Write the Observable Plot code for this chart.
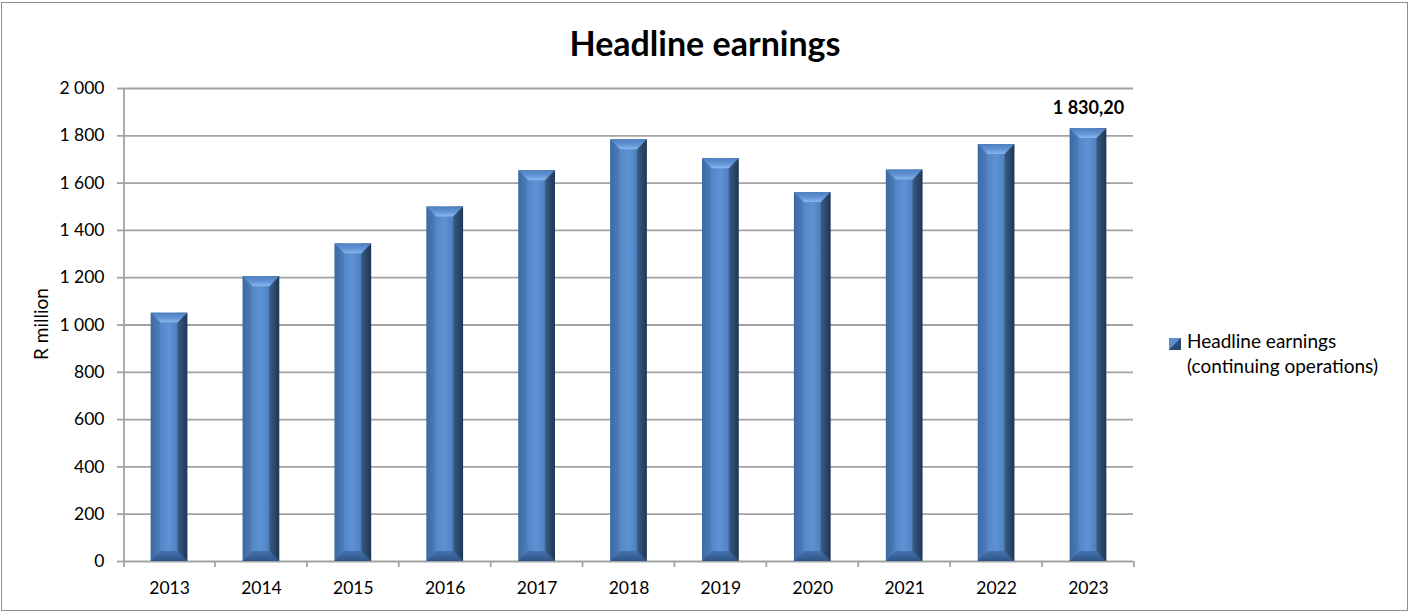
<!DOCTYPE html>
<html>
<head>
<meta charset="utf-8">
<script src="https://cdn.jsdelivr.net/npm/d3@7"></script>
<script src="https://cdn.jsdelivr.net/npm/@observablehq/plot@0.6"></script>
<style>
  html, body { margin: 0; padding: 0; background: #fff; }
  #chart { position: relative; width: 1410px; height: 614px; overflow: hidden;
           font-family: Lato, "Open Sans", sans-serif; color: #000; }
  #frame { position: absolute; left: 1px; top: 2px; width: 1405px; height: 607px;
           border: 1.5px solid #8e8e8e; pointer-events: none; }
  #title { position: absolute; left: 0; top: 25px; width: 1410px; text-align: center;
           font-size: 34px; font-weight: 700; line-height: 36px; }
  #ylabel { position: absolute; left: 40px; top: 324px; white-space: nowrap; font-size: 19px;
            transform: translate(-50%, -50%) rotate(-90deg); }
  #legend { position: absolute; left: 1169px; top: 328px; font-size: 19px; line-height: 25px; }
  #legend svg { position: absolute; left: 0; top: 10px; }
  #legend .txt { margin-left: 18px; white-space: nowrap; }
  #plot { position: absolute; left: 0; top: 0; }
</style>
</head>
<body>
<div id="chart">
  <div id="plot"></div>
  <div id="title">Headline earnings</div>
  <div id="ylabel">R million</div>
  <div id="legend">
    <svg width="12" height="12" viewBox="0 0 12 12">
      <rect width="12" height="12" fill="#3f6ca4"/>
      <polygon points="0,0 12,0 0,12" fill="#5b8dcd"/>
      <polygon points="12,0 12,12 0,12" fill="#2c4b74"/>
    </svg>
    <div class="txt">Headline earnings<br>(continuing operations)</div>
  </div>
  <div id="frame"></div>
</div>
<script>
// Headline earnings (continuing operations), R million
const years = ["2013", "2014", "2015", "2016", "2017", "2018", "2019", "2020", "2021", "2022", "2023"];
const earnings = [1050, 1204, 1343, 1499, 1652, 1783, 1703, 1560, 1655, 1763, 1830.2];
const yTicks = [0, 200, 400, 600, 800, 1000, 1200, 1400, 1600, 1800, 2000];
const labelledYears = ["2023"];

const data = years.map((year, i) => ({year, value: earnings[i]}));
const labelled = data.filter(d => labelledYears.includes(d.year));

const gridColor = "#a2a2a2";

// "2 000" style thousands, "1 830,20" style decimals
const spaced = d => d3.format(",")(d).replace(/,/g, " ");
const valueFmt = d => d3.format(",.2f")(d).replace(/[,.]/g, c => (c === "," ? " " : ","));

// Bevelled column: shaded body, light top facet, darker base facet
const bars = Plot.barY(data, {
  x: "year",
  y: "value",
  render(index, scales) {
    const {x, y} = scales;
    const bw = x.bandwidth();
    const d = bw * 0.27;
    const g = d3.create("svg:g");
    const defs = g.append("defs");

    const body = defs.append("linearGradient").attr("id", "bar-body")
      .attr("x1", 0).attr("x2", 1).attr("y1", 0).attr("y2", 0);
    [[0, "#3c69a1"], [0.22, "#4a7ab8"], [0.28, "#5588c9"], [0.5, "#5e92d4"],
     [0.7, "#5083c3"], [0.76, "#36587f"], [1, "#1f3555"]]
      .forEach(([o, c]) => body.append("stop").attr("offset", o).attr("stop-color", c));

    const top = defs.append("linearGradient").attr("id", "bar-top")
      .attr("x1", 0).attr("x2", 0).attr("y1", 0).attr("y2", 1);
    [[0, "#4d7ebe"], [0.55, "#6394d6"], [1, "#89b7ee"]]
      .forEach(([o, c]) => top.append("stop").attr("offset", o).attr("stop-color", c));

    const base = defs.append("linearGradient").attr("id", "bar-base")
      .attr("x1", 0).attr("x2", 0).attr("y1", 0).attr("y2", 1);
    [[0, "#4372ad"], [1, "#2f5587"]]
      .forEach(([o, c]) => base.append("stop").attr("offset", o).attr("stop-color", c));

    const y0 = y(0);
    for (const i of index) {
      const row = data[i];
      const x0 = x(row.year), x1 = x0 + bw, yt = y(row.value);
      g.append("rect").attr("x", x0).attr("y", yt).attr("width", bw).attr("height", y0 - yt)
        .attr("fill", "url(#bar-body)");
      g.append("polygon")
        .attr("points", [[x0, yt], [x1, yt], [x1 - d, yt + d], [x0 + d, yt + d]].join(" "))
        .attr("fill", "url(#bar-top)");
      g.append("polygon")
        .attr("points", [[x0, y0], [x1, y0], [x1 - d, y0 - d], [x0 + d, y0 - d]].join(" "))
        .attr("fill", "url(#bar-base)");
    }
    return g.node();
  }
});

// Value axis line and category separator ticks
const axisLines = Plot.ruleY([0], {
  render(index, scales, values, dims) {
    const {x, y} = scales;
    const bw = x.bandwidth();
    const step = x(years[1]) - x(years[0]);
    const gap = (step - bw) / 2;
    const yb = y(0);
    const g = d3.create("svg:g").attr("stroke", gridColor).attr("stroke-width", 1.8);
    g.append("line")
      .attr("x1", dims.marginLeft).attr("x2", dims.marginLeft)
      .attr("y1", y(yTicks[yTicks.length - 1])).attr("y2", yb + 6);
    for (const yr of years) {
      const bx = x(yr) + bw + gap;
      g.append("line").attr("x1", bx).attr("x2", bx).attr("y1", yb).attr("y2", yb + 6);
    }
    return g.node();
  }
});

const chart = Plot.plot({
  width: 1410,
  height: 614,
  marginLeft: 124,
  marginRight: 277,
  marginTop: 88,
  marginBottom: 53,
  style: {fontFamily: "Lato, 'Open Sans', sans-serif", fontSize: "17.5px", color: "#000", background: "transparent"},
  x: {domain: years, paddingInner: 0.6, paddingOuter: 0.29, round: false, label: null},
  y: {domain: [0, 2000], label: null},
  marks: [
    Plot.ruleY(yTicks, {stroke: gridColor, strokeWidth: 1.8}),
    bars,
    axisLines,
    Plot.axisY({ticks: yTicks, tickSize: 7, tickPadding: 13, tickFormat: spaced,
                stroke: gridColor, strokeWidth: 1.8, label: null}),
    Plot.axisX({tickSize: 0, tickPadding: 20, label: null}),
    Plot.text(labelled, {x: "year", y: "value", text: d => valueFmt(d.value),
                         dy: -15, lineAnchor: "bottom", fontWeight: "bold", fontSize: 18})
  ]
});

document.getElementById("plot").appendChild(chart);
</script>
</body>
</html>
